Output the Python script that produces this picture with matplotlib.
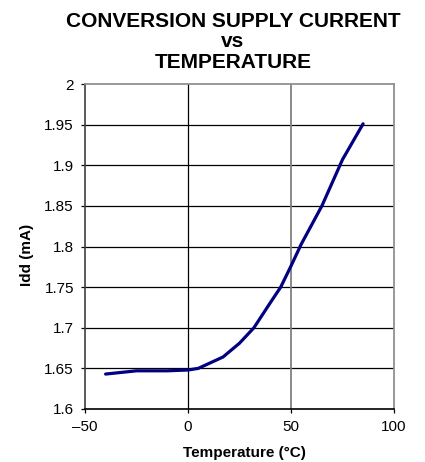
import matplotlib
matplotlib.use("Agg")
import matplotlib.pyplot as plt

plt.rcParams['font.family'] = ['Liberation Sans', 'DejaVu Sans']

temp = [-40, -25, -10, 0, 5, 17, 25, 32, 40, 45, 50, 55, 65, 75, 85]
idd = [1.643, 1.647, 1.647, 1.648, 1.650, 1.664, 1.681, 1.700, 1.731, 1.750, 1.776, 1.803, 1.850, 1.907, 1.951]
xticks = [-50, 0, 50, 100]
yticks = [1.6, 1.65, 1.7, 1.75, 1.8, 1.85, 1.9, 1.95, 2]
ytick_labels = ['1.6', '1.65', '1.7', '1.75', '1.8', '1.85', '1.9', '1.95', '2']
xtick_labels = ['\u201350', '0', '50', '100']
title_lines = ['CONVERSION SUPPLY CURRENT', 'vs', 'TEMPERATURE']

W, H = 425, 462
fig = plt.figure(figsize=(W / 100, H / 100), dpi=100)
ax = fig.add_axes([85 / W, 1 - 409 / H, (394 - 85) / W, (409 - 84) / H])

ax.set_xlim(-50, 100)
ax.set_ylim(1.6, 2.0)
ax.set_xticks(xticks)
ax.set_xticklabels(xtick_labels)
ax.set_yticks(yticks)
ax.set_yticklabels(ytick_labels)

for y in yticks[1:-1]:
    ax.axhline(y, color='black', lw=0.9, zorder=1)
ax.axvline(0, color='black', lw=0.9, zorder=1)
ax.axvline(50, color='#808080', lw=1.3, zorder=1)

ax.spines['top'].set_color('#909090')
ax.spines['top'].set_linewidth(1.3)
ax.spines['right'].set_color('#909090')
ax.spines['right'].set_linewidth(1.3)
ax.spines['left'].set_color('#404040')
ax.spines['left'].set_linewidth(1.2)
ax.spines['bottom'].set_color('black')
ax.spines['bottom'].set_linewidth(1.2)

ax.plot(temp, idd, color='#000080', lw=2.3, zorder=3, solid_capstyle='round', solid_joinstyle='round')

ax.tick_params(axis='both', direction='out', length=3, width=0.9, labelsize=11, colors='black')
ax.tick_params(axis='y', pad=5)
ax.tick_params(axis='x', pad=5)

fig.text(244 / W, 1 - 457 / H, 'Temperature (\u00b0C)', ha='center', va='baseline',
         fontsize=11, fontweight='bold')
fig.text(27 / W, 1 - 255 / H, 'Idd (mA)', ha='center', va='center', rotation=90,
         fontsize=11, fontweight='bold')

baselines = [27, 47, 68.5]
for line, b in zip(title_lines, baselines):
    fig.text(233 / W, 1 - b / H, line, ha='center', va='baseline', fontsize=15, fontweight='bold')

fig.savefig('out.png', dpi=100)
